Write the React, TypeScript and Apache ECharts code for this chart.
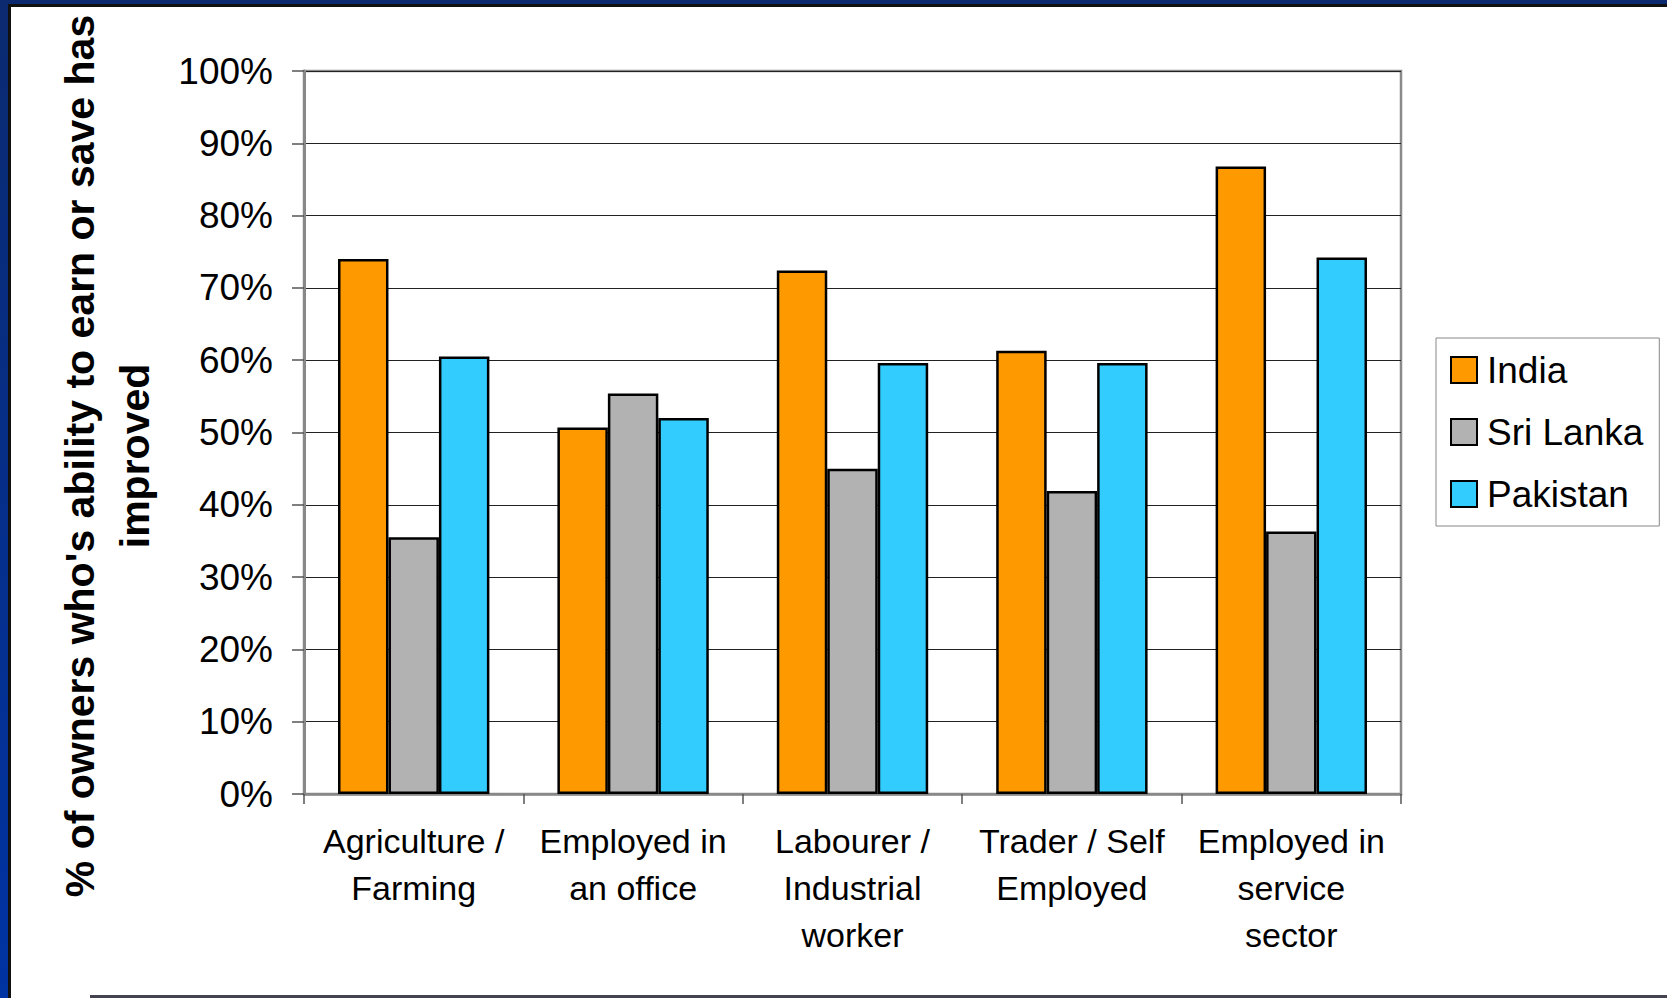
import React, { useEffect, useRef } from "react";
import * as echarts from "echarts";

const categories = [
  "Agriculture /\nFarming",
  "Employed in\nan office",
  "Labourer /\nIndustrial\nworker",
  "Trader / Self\nEmployed",
  "Employed in\nservice\nsector",
];
const seriesNames = ["India", "Sri Lanka", "Pakistan"];
const india = [74.0, 50.7, 72.4, 61.3, 86.8];
const sriLanka = [35.5, 55.4, 45.0, 41.9, 36.3];
const pakistan = [60.5, 52.0, 59.6, 59.6, 74.2];
const yTicks = [0, 10, 20, 30, 40, 50, 60, 70, 80, 90, 100];
const colors = ["#FF9900", "#B2B2B2", "#33CCFF"];
const yTitle = "% of owners who's ability to earn or save has\nimproved";

const FONT = "'Liberation Sans', Arial, sans-serif";

export default function App() {
  const ref = useRef<HTMLDivElement>(null);
  useEffect(() => {
    if (!ref.current) return;
    const chart = echarts.init(ref.current, undefined, { renderer: "svg" });
    const values = [india, sriLanka, pakistan];
    chart.setOption({
      animation: false,
      backgroundColor: "#ffffff",
      textStyle: { fontFamily: FONT },
      grid: {
        left: 304,
        top: 71,
        width: 1097,
        height: 723,
        show: true,
        borderColor: "#8a8a8a",
        borderWidth: 2.5,
        backgroundColor: "transparent",
      },
      legend: {
        orient: "vertical",
        left: 1436,
        top: 338,
        itemWidth: 26,
        itemHeight: 26,
        itemGap: 22,
        padding: [12, 16, 12, 14],
        borderColor: "#888888",
        borderWidth: 1,
        icon: "rect",
        data: seriesNames,
        textStyle: {
          fontFamily: FONT,
          fontSize: 37,
          lineHeight: 40,
          color: "#000",
          padding: [0, 0, 0, 5],
        },
      },
      xAxis: {
        type: "category",
        data: categories,
        boundaryGap: true,
        axisLine: { show: true, lineStyle: { color: "#888888", width: 2.5 } },
        axisTick: {
          show: true,
          alignWithLabel: false,
          length: 10,
          lineStyle: { color: "#555", width: 1.5 },
        },
        axisLabel: {
          interval: 0,
          fontFamily: FONT,
          fontSize: 34,
          lineHeight: 47,
          margin: 23,
          color: "#000",
        },
      },
      yAxis: {
        type: "value",
        min: 0,
        max: 100,
        interval: 10,
        axisLine: { show: true, lineStyle: { color: "#888888", width: 3 } },
        axisTick: { show: true, length: 12, lineStyle: { color: "#555", width: 1.5 } },
        splitLine: { show: true, lineStyle: { color: "#222", width: 1 } },
        axisLabel: {
          fontFamily: FONT,
          fontSize: 37,
          margin: 31,
          color: "#000",
          formatter: (v: number) => (yTicks.includes(v) ? `${v}%` : ""),
        },
      },
      series: seriesNames.map((name, i) => ({
        name,
        type: "bar",
        data: values[i],
        barGap: "0%",
        barCategoryGap: "31%",
        itemStyle: { color: colors[i], borderColor: "#000", borderWidth: 2.5 },
      })),
      graphic: [
        {
          type: "text",
          x: 107,
          y: 456,
          rotation: Math.PI / 2,
          style: {
            text: yTitle,
            fontFamily: FONT,
            fontWeight: "bold",
            fontSize: 41,
            lineHeight: 55,
            fill: "#000",
            textAlign: "center",
            textVerticalAlign: "middle",
          },
        },
        {
          type: "rect",
          shape: { x: 0, y: 0, width: 1667, height: 4 },
          style: { fill: "#0b2a70" },
          z: 100,
        },
        {
          type: "rect",
          shape: { x: 0, y: 4, width: 1667, height: 3 },
          style: { fill: "#111" },
          z: 100,
        },
        {
          type: "rect",
          shape: { x: 0, y: 0, width: 8, height: 998 },
          style: {
            fill: new echarts.graphic.LinearGradient(0, 0, 0, 1, [
              { offset: 0, color: "#0b2a70" },
              { offset: 1, color: "#0033a3" },
            ]),
          },
          z: 100,
        },
        {
          type: "rect",
          shape: { x: 8, y: 4, width: 3, height: 994 },
          style: { fill: "#111" },
          z: 100,
        },
        {
          type: "rect",
          shape: { x: 90, y: 995, width: 1577, height: 3 },
          style: { fill: "#444450" },
          z: 100,
        },
      ],
    });
    return () => chart.dispose();
  }, []);
  return (
    <div
      ref={ref}
      style={{ position: "fixed", left: 0, top: 0, width: 1667, height: 998 }}
    />
  );
}
